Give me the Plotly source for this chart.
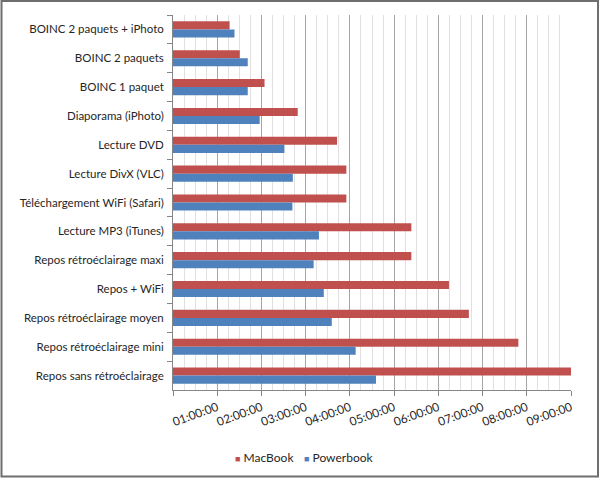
import plotly.graph_objects as go

categories = [
    "BOINC 2 paquets + iPhoto",
    "BOINC 2 paquets",
    "BOINC 1 paquet",
    "Diaporama (iPhoto)",
    "Lecture DVD",
    "Lecture DivX (VLC)",
    "Téléchargement WiFi (Safari)",
    "Lecture MP3 (iTunes)",
    "Repos rétroéclairage maxi",
    "Repos + WiFi",
    "Repos rétroéclairage moyen",
    "Repos rétroéclairage mini",
    "Repos sans rétroéclairage",
]
# durations in hours
macbook = [1.28, 1.51, 2.07, 2.82, 3.71, 3.92, 3.92, 5.39, 5.39, 6.24, 6.69, 7.81, 9.0]
powerbook = [1.39, 1.69, 1.69, 1.96, 2.52, 2.71, 2.70, 3.30, 3.18, 3.41, 3.59, 4.13, 4.59]
tick_vals = [0, 1, 2, 3, 4, 5, 6, 7, 8, 9]
tick_text = ["", "01:00:00", "02:00:00", "03:00:00", "04:00:00", "05:00:00",
             "06:00:00", "07:00:00", "08:00:00", "09:00:00"]
series_names = ["MacBook", "Powerbook"]
series_colors = ["#C0504D", "#4F81BD"]

font_family = "Lato, 'Open Sans', sans-serif"

fig = go.Figure()
fig.add_trace(go.Bar(y=categories, x=macbook, name=series_names[0], orientation="h",
                     marker=dict(color=series_colors[0], line=dict(width=0))))
fig.add_trace(go.Bar(y=categories, x=powerbook, name=series_names[1], orientation="h",
                     marker=dict(color=series_colors[1], line=dict(width=0))))

# Legend drawn as annotations (small square swatches like the original)
legend_x_px = [233, 302]
annotations = []
for name, color, px in zip(series_names, series_colors, legend_x_px):
    annotations.append(dict(
        xref="paper", yref="paper",
        x=(px - 173) / 398, y=(390 - 457) / 375,
        xanchor="left", yanchor="middle", showarrow=False,
        text=f"<span style='color:{color};font-size:9px'>■</span> {name}",
        font=dict(size=12, color="#262626"),
    ))

fig.update_layout(
    width=600, height=478,
    margin=dict(l=173, r=29, t=15, b=88, autoexpand=False),
    paper_bgcolor="white", plot_bgcolor="white",
    barmode="group", bargap=0.44, bargroupgap=0,
    font=dict(family=font_family, size=11, color="#262626"),
    showlegend=False,
    annotations=annotations,
    xaxis=dict(range=[0, 9], tickvals=tick_vals, ticktext=tick_text, tickangle=-20,
               showgrid=True, gridcolor="#A6A6A6", gridwidth=1,
               minor=dict(dtick=0.25, showgrid=True, gridcolor="#E0E0E0", ticks=""),
               showline=True, linecolor="#868686", linewidth=1,
               ticks="outside", ticklen=5, tickcolor="#868686",
               zeroline=False, tickfont=dict(size=12), automargin=False),
    yaxis=dict(categoryorder="array", categoryarray=categories, autorange="reversed",
               showline=True, linecolor="#868686", linewidth=1,
               ticks="outside", ticklen=5, tickcolor="#868686", tickson="boundaries",
               showgrid=False, zeroline=False, tickfont=dict(size=11.5),
               ticksuffix="  ", automargin=False),
    shapes=[dict(type="rect", xref="paper", yref="paper",
                 x0=(1.5 - 173) / 398, x1=(598 - 173) / 398,
                 y0=(390 - 476.5) / 375, y1=(390 - 1) / 375,
                 line=dict(color="#6E6E6E", width=2), fillcolor="rgba(0,0,0,0)",
                 layer="below")],
)

fig.write_html("out.html",
               config={"displayModeBar": False},
               post_script="document.body.style.margin='0';document.body.style.overflow='hidden';")
